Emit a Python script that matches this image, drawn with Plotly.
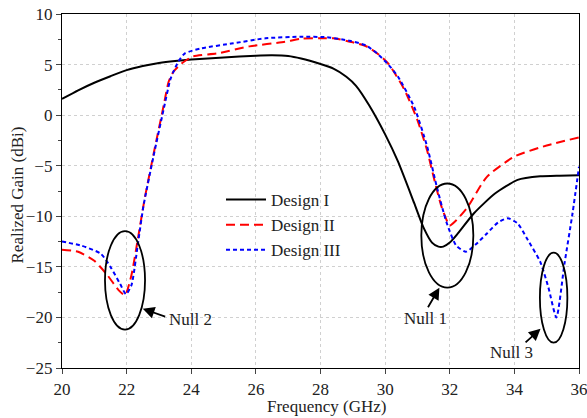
import plotly.graph_objects as go

# ---- data ----
f1 = [20, 20.5, 21, 21.5, 22, 22.5, 23, 23.5, 24, 25, 26, 26.5, 27, 27.4, 28, 28.4, 28.8, 29.1,
      29.5, 30, 30.4, 30.9, 31.2, 31.45, 31.65, 31.8, 32.0, 32.25, 32.75, 33.4, 34.1, 34.8, 35.4, 36]
g1 = [1.6, 2.45, 3.2, 3.85, 4.45, 4.85, 5.15, 5.35, 5.5, 5.7, 5.88, 5.92, 5.85, 5.6, 5.05, 4.6, 3.8, 2.9,
      1.0, -1.9, -4.6, -8.7, -11.2, -12.6, -13.0, -13.0, -12.6, -11.7, -9.7, -7.75, -6.4, -6.05, -5.98, -5.94]

f2 = [20, 20.5, 21.0, 21.4, 21.75, 21.95, 22.15, 22.35, 22.55, 22.85, 23.15, 23.3, 23.45, 23.7, 24.05,
      24.8, 25.8, 26.9, 27.4, 28.0, 28.4, 29.0, 29.45, 29.8, 30.1, 30.6, 31.0, 31.3, 31.5, 31.75, 32.0,
      32.2, 32.55, 33.15, 34.0, 35.0, 36]
g2 = [-13.3, -13.5, -14.4, -15.8, -17.3, -17.8, -15.8, -12.2, -8.4, -3.6, 1.0, 3.3, 4.3, 5.1, 5.8,
      6.1, 6.8, 7.25, 7.55, 7.6, 7.6, 7.2, 6.76, 6.0, 5.1, 2.5, -0.5, -3.5, -6.1, -9.1, -10.9,
      -10.4, -9.1, -6.1, -4.1, -3.0, -2.2]

f3 = [20, 20.6, 21.2, 21.5, 21.8, 21.98, 22.15, 22.35, 22.52, 22.83, 23.14, 23.35, 23.45, 23.6, 23.8,
      24.3, 25.3, 26.3, 27.4, 28.2, 28.9, 29.4, 29.75, 30.1, 30.4, 30.9, 31.3, 31.6, 31.9, 32.2, 32.5,
      32.8, 33.15, 33.5, 33.8, 34.1, 34.4, 34.8, 35.05, 35.3, 35.55, 35.8, 36]
g3 = [-12.5, -12.9, -13.7, -15.0, -16.7, -17.7, -16.8, -12.7, -9.0, -4.1, 0.5, 3.5, 4.3, 5.3, 6.1,
      6.6, 7.1, 7.6, 7.75, 7.7, 7.35, 6.9, 6.1, 5.0, 3.8, 0.8, -3.1, -7.1, -10.6, -12.9, -13.5,
      -12.8, -11.7, -10.6, -10.2, -10.7, -12.25, -14.5, -17.0, -20.0, -14.7, -9.7, -5.1]

names = ["Design I", "Design II", "Design III"]
x_ticks = [20, 22, 24, 26, 28, 30, 32, 34, 36]
y_ticks = [-25, -20, -15, -10, -5, 0, 5, 10]
x_title = "Frequency (GHz)"
y_title = "Realized Gain (dBi)"

# null markers: ellipse bounds, arrow tip, arrow tail, label pos, label
nulls = [
    dict(box=(21.33, 22.57, -21.2, -11.46), tip=(22.50, -19.14), tail=(23.24, -19.97),
         lab=(23.97, -20.2), text="Null 2"),
    dict(box=(31.12, 32.73, -17.06, -6.76), tip=(31.68, -17.06), tail=(31.30, -19.14),
         lab=(31.25, -20.1), text="Null 1"),
    dict(box=(34.79, 35.64, -22.5, -13.6), tip=(34.81, -21.12), tail=(34.30, -22.6),
         lab=(33.91, -23.44), text="Null 3"),
]

FONT = "Liberation Serif"
TXT = "#222"
FS = 17

W, H = 587, 418
PL, PR, PT, PB = 62, 579, 14, 368   # plot area in page pixels
PW, PH = PR - PL, PB - PT

fig = go.Figure()
fig.add_trace(go.Scatter(x=f1, y=g1, name=names[0], mode="lines",
                         line=dict(color="black", width=2, shape="spline", smoothing=0.6)))
fig.add_trace(go.Scatter(x=f2, y=g2, name=names[1], mode="lines",
                         line=dict(color="#ff0000", width=2, dash="9px,5px", shape="spline", smoothing=0.6)))
fig.add_trace(go.Scatter(x=f3, y=g3, name=names[2], mode="lines",
                         line=dict(color="#0000ff", width=2, dash="4px,3px", shape="spline", smoothing=0.6)))

for n in nulls:
    x0, x1, y0, y1 = n["box"]
    fig.add_shape(type="circle", xref="x", yref="y", x0=x0, x1=x1, y0=y0, y1=y1,
                  line=dict(color="black", width=1.8))
    fig.add_annotation(x=n["tip"][0], y=n["tip"][1], ax=n["tail"][0], ay=n["tail"][1],
                       xref="x", yref="y", axref="x", ayref="y", text="", showarrow=True,
                       arrowhead=2, arrowsize=1.3, arrowwidth=1.8, arrowcolor="black")
    fig.add_annotation(x=n["lab"][0], y=n["lab"][1], xref="x", yref="y", text=n["text"],
                       showarrow=False, xanchor="center", yanchor="middle",
                       font=dict(family=FONT, size=FS, color=TXT))

# axis titles placed explicitly (paper coords from plot-area geometry)
fig.add_annotation(x=(326 - PL) / PW, y=-(406 - PB) / PH, xref="paper", yref="paper",
                   xanchor="center", yanchor="middle",
                   text=x_title, showarrow=False, font=dict(family=FONT, size=FS, color=TXT))
fig.add_annotation(x=-(PL - 16.5) / PW, y=(PB - 195) / PH, xref="paper", yref="paper",
                   xanchor="center", yanchor="middle",
                   text=y_title, showarrow=False, textangle=-90,
                   font=dict(family=FONT, size=FS, color=TXT))

fig.update_layout(
    width=W, height=H,
    margin=dict(l=PL, r=W - PR, t=PT, b=H - PB, autoexpand=False),
    paper_bgcolor="white", plot_bgcolor="white",
    font=dict(family=FONT, size=FS, color=TXT),
    showlegend=True,
    legend=dict(x=(221 - PL) / PW, y=(PB - 182) / PH, xanchor="left", yanchor="top",
                bgcolor="rgba(0,0,0,0)", font=dict(family=FONT, size=FS, color=TXT),
                tracegroupgap=0, itemwidth=40),
)
fig.update_xaxes(range=[20, 36], tickvals=x_ticks, ticks="outside", ticklen=5, tickwidth=1.2,
                 showline=True, linecolor="black", linewidth=1.3, mirror=True, automargin=False,
                 ticklabeloverflow="allow",
                 showgrid=True, gridcolor="#d0d0d0", griddash="dot", gridwidth=1,
                 zeroline=False, tickfont=dict(family=FONT, size=FS, color=TXT))
fig.update_yaxes(range=[-25, 10], tickvals=y_ticks, ticks="outside", ticklen=5, tickwidth=1.2,
                 minor=dict(dtick=2.5, tick0=0, ticks="outside", ticklen=3, showgrid=False),
                 showline=True, linecolor="black", linewidth=1.3, mirror=True, automargin=False,
                 ticklabeloverflow="allow",
                 showgrid=True, gridcolor="#d0d0d0", griddash="dot", gridwidth=1,
                 zeroline=False, tickfont=dict(family=FONT, size=FS, color=TXT))

# remove the browser's default 8px body margin so the figure sits at the page origin
fig.write_html("out.html", config={"displayModeBar": False},
               post_script="document.body.style.margin='0';")
